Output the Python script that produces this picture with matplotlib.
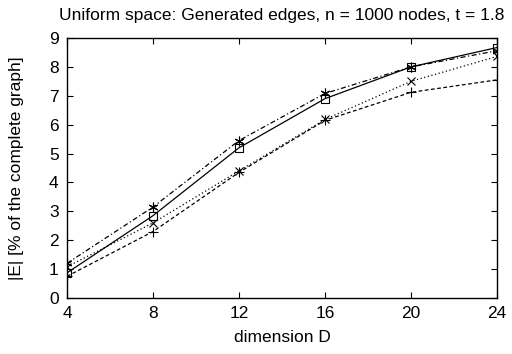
import matplotlib
matplotlib.use("Agg")
import matplotlib.pyplot as plt

dims = [4, 8, 12, 16, 20, 24]
s_square = [0.87, 2.85, 5.2, 6.9, 8.0, 8.67]
s_star = [1.2, 3.15, 5.45, 7.08, 8.0, 8.56]
s_plus = [0.75, 2.3, 4.35, 6.15, 7.12, 7.55]
s_cross = [1.08, 2.6, 4.4, 6.18, 7.5, 8.36]

plt.rcParams['font.family'] = ['Liberation Sans', 'DejaVu Sans']
fig = plt.figure(figsize=(5.12, 3.54), dpi=100)
ax = fig.add_axes([67/512, 1-298/354, (497-67)/512, (298-38)/354])

ax.plot(dims, s_square, color='black', lw=0.9, ls='-', marker='s', ms=6,
        mfc='none', mew=0.8)
ax.plot(dims, s_plus, color='black', lw=0.9, ls=(0, (3, 2)), marker='+', ms=7, mew=0.8)
ax.plot(dims, s_cross, color='black', lw=0.9, ls=(0, (1, 2)), marker='x', ms=6, mew=0.8)
ax.plot(dims, s_star, color='black', lw=0.9, ls=(0, (4, 2, 1, 2)), marker=(6, 2, 0), ms=7, mew=0.8)

ax.set_xlim(4, 24)
ax.set_ylim(0, 9)
ax.set_xticks(dims)
ax.set_yticks(range(0, 10))
ax.tick_params(direction='in', top=True, right=True, length=4, width=0.8,
               labelsize=12.5, pad=6)
for s in ax.spines.values():
    s.set_linewidth(1.0)
ax.set_xlabel('dimension D', fontsize=12.5, labelpad=6.5)
ax.set_ylabel('|E| [% of the complete graph]', fontsize=12.5, labelpad=18)
ax.set_title('Uniform space: Generated edges, n = 1000 nodes, t = 1.8', fontsize=12.5, pad=13)

fig.savefig('out.png', dpi=100)
